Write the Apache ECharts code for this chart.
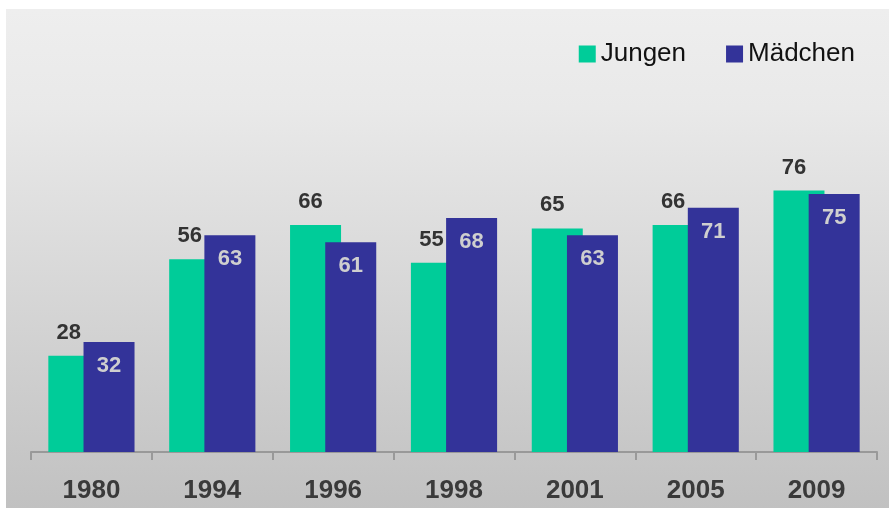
<!DOCTYPE html>
<html>
<head>
<meta charset="utf-8">
<script src="https://cdn.jsdelivr.net/npm/echarts@6/dist/echarts.min.js"></script>
<style>
  html, body { margin: 0; padding: 0; background: #ffffff; }
  #chart { width: 889px; height: 508px; }
</style>
</head>
<body>
<div id="chart"></div>
<script>
const years = ["1980", "1994", "1996", "1998", "2001", "2005", "2009"]
const jungen = [28, 56, 66, 55, 65, 66, 76]
const maedchen = [32, 63, 61, 68, 63, 71, 75]

const chart = echarts.init(document.getElementById("chart"))

const option = {
    animation: false,
    textStyle: { fontFamily: "Liberation Sans, Arial, sans-serif" },
    graphic: [
        {
            type: "rect",
            z: -10,
            shape: { x: 6, y: 9, width: 883, height: 499 },
            style: {
                fill: new echarts.graphic.LinearGradient(0, 0, 0, 1, [
                    { offset: 0, color: "#eeeeee" },
                    { offset: 0.2, color: "#e9e9e9" },
                    { offset: 1, color: "#c1c1c1" },
                ]),
            },
        },
    ],
    legend: {
        data: ["Jungen", "Mädchen"],
        right: 29,
        top: 36,
        itemWidth: 17,
        itemHeight: 17,
        itemGap: 40,
        icon: "rect",
        textStyle: { fontSize: 26, color: "#111111", padding: [0, 0, 0, 0] },
    },
    grid: {
        left: 31,
        right: 12,
        top: 108,
        bottom: 56,
        containLabel: false,
    },
    xAxis: {
        type: "category",
        data: years,
        axisLine: { lineStyle: { color: "#999999", width: 2 } },
        axisTick: {
            show: true,
            interval: 0,
            alignWithLabel: false,
            length: 8,
            lineStyle: { color: "#999999", width: 2 },
        },
        axisLabel: {
            fontSize: 26,
            fontWeight: "bold",
            color: "#3a3a3a",
            margin: 26,
        },
    },
    yAxis: {
        type: "value",
        min: 0,
        max: 100,
        show: false,
        splitLine: { show: false },
    },
    series: [
        {
            name: "Jungen",
            type: "bar",
            data: jungen,
            barWidth: 51,
            barGap: "-31%",
            itemStyle: { color: "#00cc99" },
            label: {
                show: true,
                position: "top",
                distance: 12,
                offset: [-5, 0],
                fontSize: 22,
                fontWeight: "bold",
                color: "#333333",
            },
        },
        {
            name: "Mädchen",
            type: "bar",
            data: maedchen,
            barWidth: 51,
            itemStyle: { color: "#333399" },
            label: {
                show: true,
                position: "insideTop",
                distance: 13,
                fontSize: 22,
                fontWeight: "bold",
                color: "#cfcfcf",
            },
        },
    ],
}

chart.setOption(option)
</script>
</body>
</html>
